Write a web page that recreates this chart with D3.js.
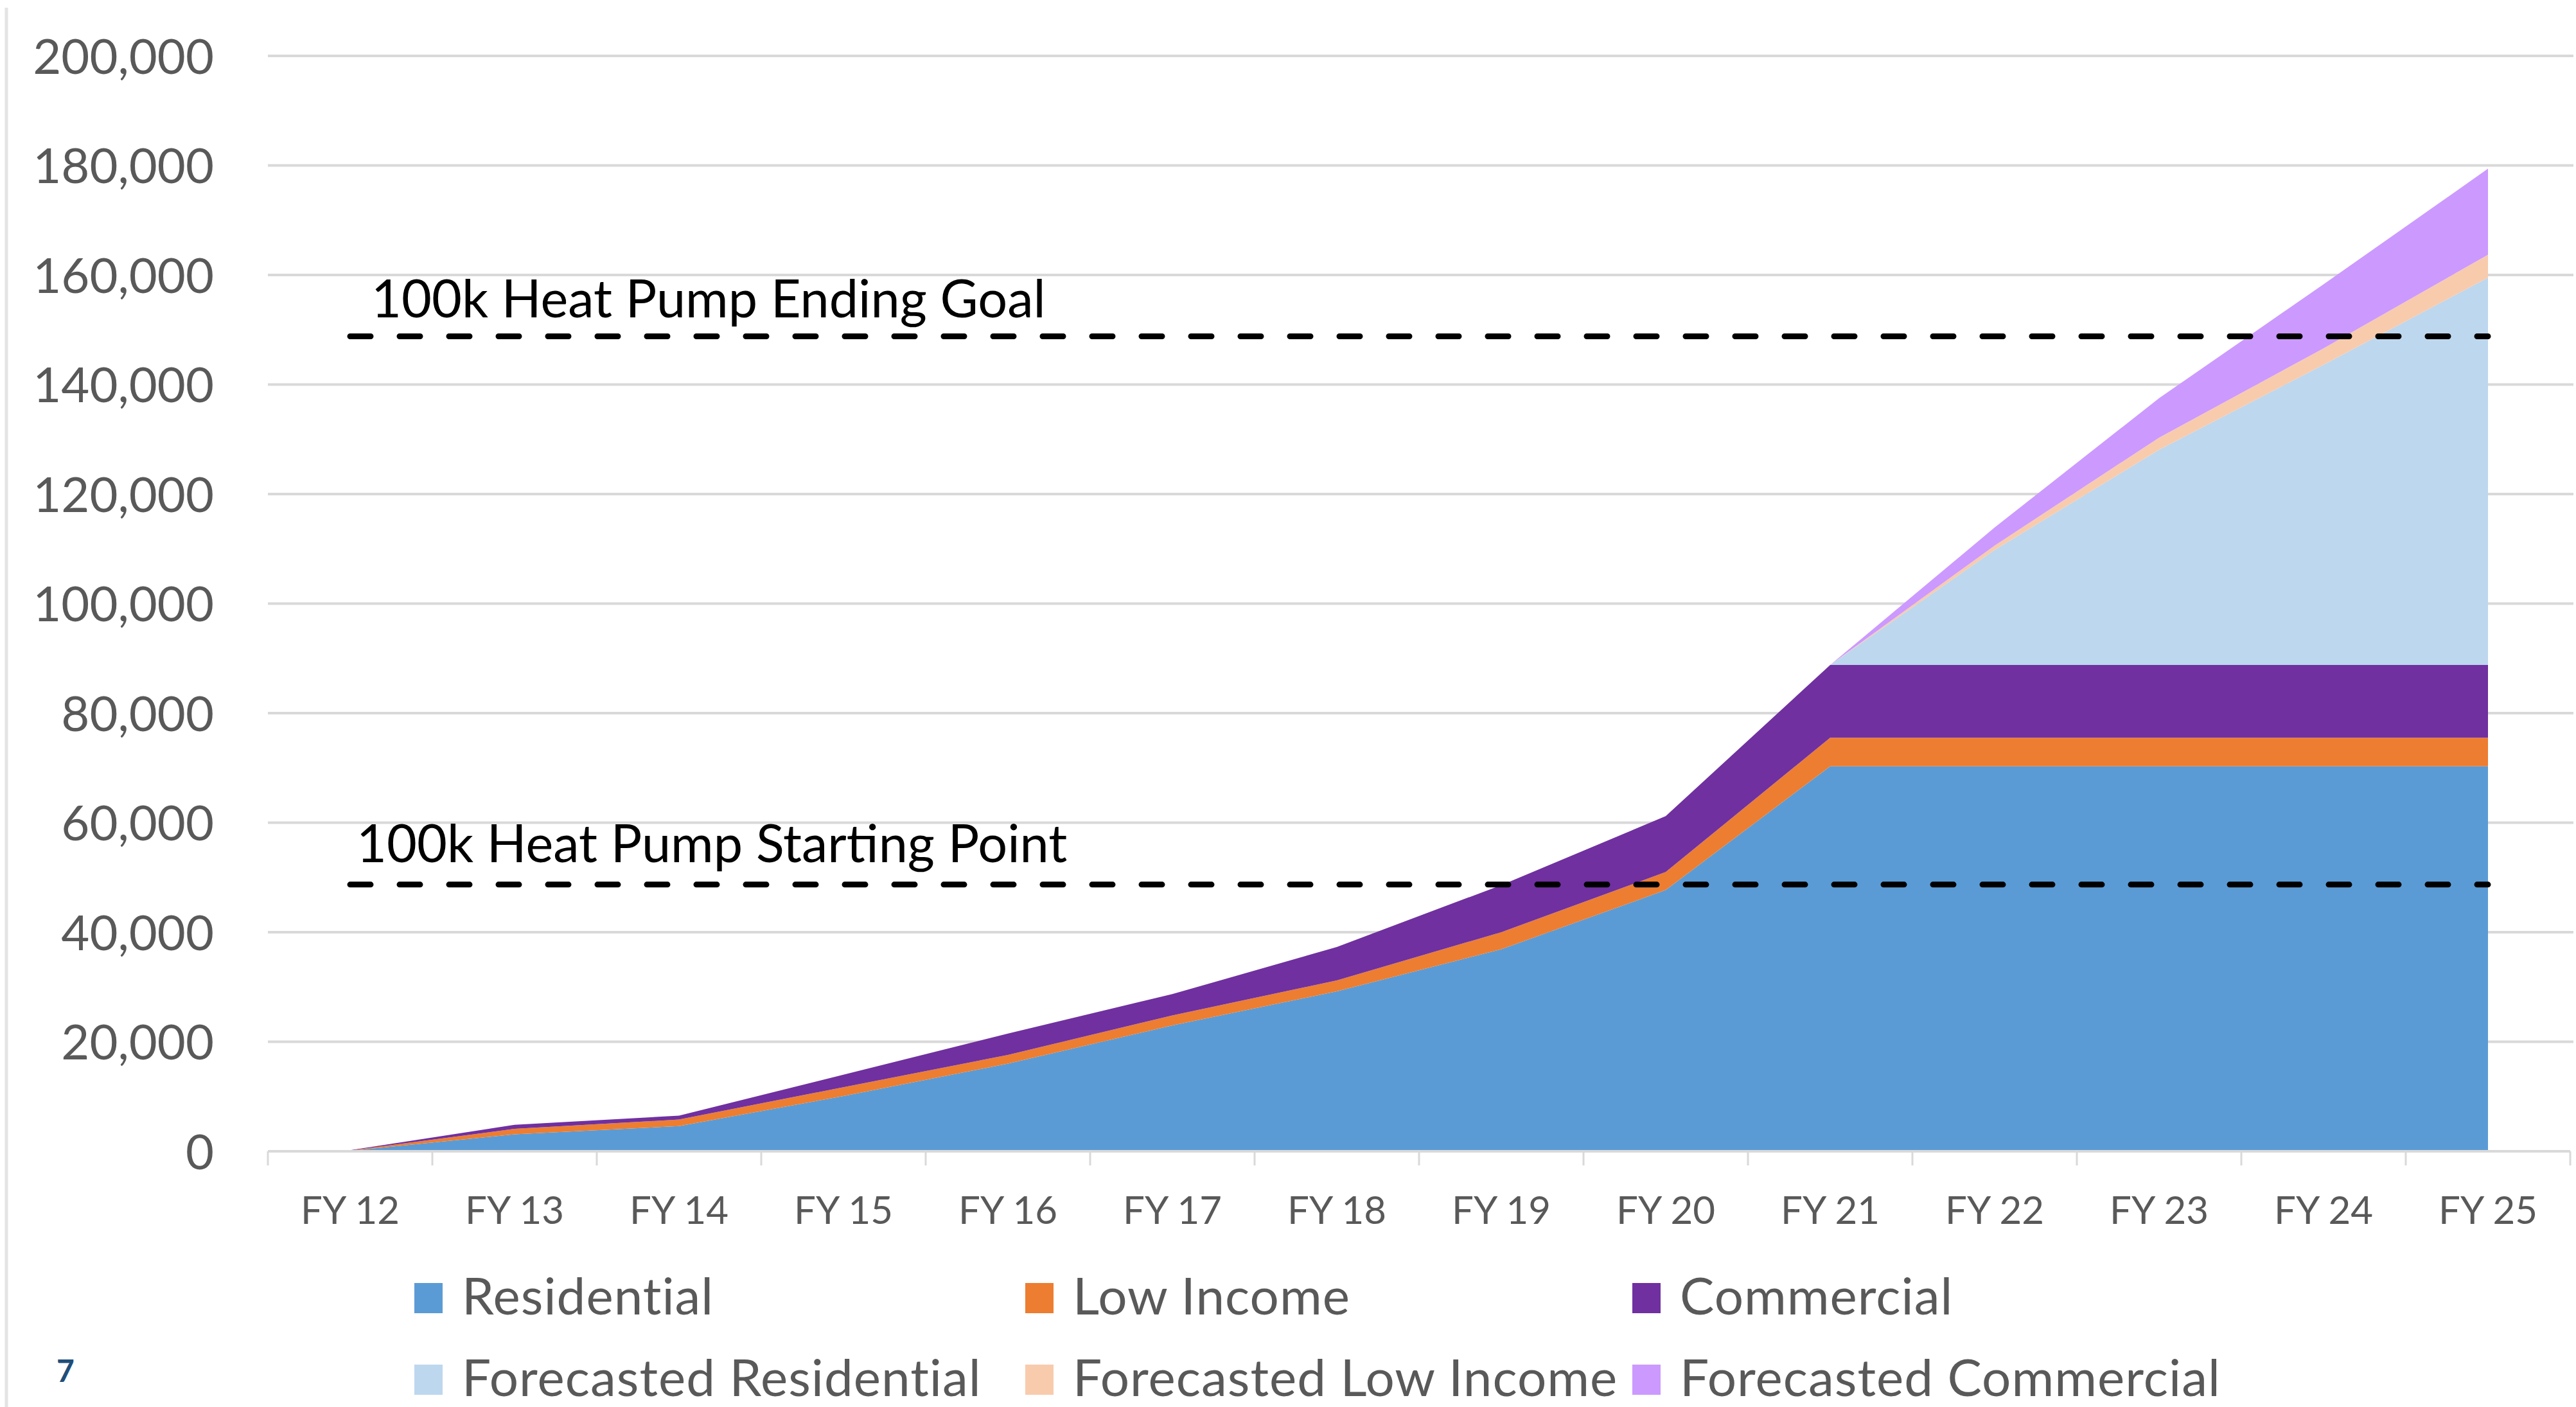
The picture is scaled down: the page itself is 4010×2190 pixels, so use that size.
<!DOCTYPE html>
<html>
<head>
<meta charset="utf-8">
<script src="https://cdn.jsdelivr.net/npm/d3@7"></script>
<style>
  html, body { margin: 0; padding: 0; background: #ffffff; }
  svg { display: block; }
  text { font-family: Lato, "Open Sans", sans-serif; }
</style>
</head>
<body>
<svg id="chart" width="4010" height="2190"></svg>
<script>
// ---- data ----
const categories = ["FY 12","FY 13","FY 14","FY 15","FY 16","FY 17","FY 18","FY 19","FY 20","FY 21","FY 22","FY 23","FY 24","FY 25"];
const residential   = [100, 3100, 4600, 10100, 16000, 23000, 29200, 36900, 47700, 70300, 70300, 70300, 70300, 70300];
const lowIncome     = [50, 1000, 1200, 1600, 1600, 1800, 2000, 3100, 3300, 5200, 5200, 5200, 5200, 5200];
const commercial    = [50, 750, 700, 2300, 3900, 3900, 6100, 8600, 10200, 13300, 13300, 13300, 13300, 13300];
const fcResidential = [0, 0, 0, 0, 0, 0, 0, 0, 0, 0, 21000, 39300, 54800, 70700];
const fcLowIncome   = [0, 0, 0, 0, 0, 0, 0, 0, 0, 0, 800, 2200, 3000, 4200];
const fcCommercial  = [0, 0, 0, 0, 0, 0, 0, 0, 0, 0, 3300, 7200, 11700, 15700];
const seriesNames   = ["Residential","Low Income","Commercial","Forecasted Residential","Forecasted Low Income","Forecasted Commercial"];
const seriesColors  = ["#5B9BD5","#ED7D31","#7030A0","#BDD7EE","#F8CBAD","#CC99FF"];
const yTicks        = [0,20000,40000,60000,80000,100000,120000,140000,160000,180000,200000];
const goalLines     = [
  {label: "100k Heat Pump Starting Point", value: 48700},
  {label: "100k Heat Pump Ending Goal", value: 148800}
];
const pageNumber = "7";

// ---- build table ----
const keys = seriesNames;
const cols = [residential, lowIncome, commercial, fcResidential, fcLowIncome, fcCommercial];
const table = categories.map((c, i) => {
  const row = {cat: c};
  keys.forEach((k, j) => row[k] = cols[j][i]);
  return row;
});
const stacked = d3.stack().keys(keys)(table);

// ---- layout ----
const svg = d3.select("#chart");
const plotLeft = 417, plotRight = 4001, plotTop = 87, plotBottom = 1792;

const x = d3.scaleBand().domain(categories).range([plotLeft, plotRight]).padding(0);
const xc = c => x(c) + x.bandwidth() / 2;
const y = d3.scaleLinear().domain([0, 200000]).range([plotBottom, plotTop]);

// slide edge line on the left
svg.append("line").attr("x1", 10).attr("x2", 10).attr("y1", 12).attr("y2", 2190)
  .attr("stroke", "#e4e4e4").attr("stroke-width", 5);

// y labels
const yAxis = d3.axisLeft(y).tickValues(yTicks).tickFormat(d3.format(",")).tickSize(0).tickPadding(0);
const yg = svg.append("g").attr("transform", `translate(333,0)`).call(yAxis);
yg.select(".domain").remove();
yg.selectAll("text").attr("font-size", 76).attr("fill", "#595959").attr("dy", "0.36em");

// gridlines
svg.append("g").selectAll("line").data(yTicks.filter(d => d > 0)).join("line")
  .attr("x1", plotLeft).attr("x2", 4006)
  .attr("y1", d => y(d)).attr("y2", d => y(d))
  .attr("stroke", "#D9D9D9").attr("stroke-width", 4);

// stacked areas
const area = d3.area()
  .x(d => xc(d.data.cat))
  .y0(d => y(d[0]))
  .y1(d => y(d[1]));
svg.append("g").selectAll("path").data(stacked).join("path")
  .attr("d", area)
  .attr("fill", (d, i) => seriesColors[i]);

// x axis line, ticks, labels
svg.append("line").attr("x1", plotLeft).attr("x2", plotRight)
  .attr("y1", plotBottom).attr("y2", plotBottom)
  .attr("stroke", "#D9D9D9").attr("stroke-width", 4);
const bounds = categories.map(c => x(c)).concat([x(categories[categories.length - 1]) + x.bandwidth()]);
svg.append("g").selectAll("line").data(bounds).join("line")
  .attr("x1", d => d).attr("x2", d => d)
  .attr("y1", plotBottom).attr("y2", plotBottom + 22)
  .attr("stroke", "#D9D9D9").attr("stroke-width", 3);

const xAxis = d3.axisBottom(x).tickSize(0).tickPadding(0);
const xg = svg.append("g").attr("transform", `translate(0,1905)`).call(xAxis);
xg.select(".domain").remove();
xg.selectAll("text").attr("font-size", 60).attr("fill", "#595959").attr("dy", 0);

// goal lines
const x0 = xc(categories[0]), x1 = xc(categories[categories.length - 1]);
const gl = svg.append("g");
gl.selectAll("line").data(goalLines).join("line")
  .attr("x1", x0).attr("x2", x1)
  .attr("y1", d => y(d.value)).attr("y2", d => y(d.value))
  .attr("stroke", "#000").attr("stroke-width", 9)
  .attr("stroke-dasharray", "32,45").attr("stroke-linecap", "round");
const labelOffsets = [{dx: 555 - x0, dy: -35}, {dx: 578 - x0, dy: -29}];
gl.selectAll("text").data(goalLines).join("text")
  .attr("x", (d, i) => x0 + labelOffsets[i].dx)
  .attr("y", (d, i) => y(d.value) + labelOffsets[i].dy)
  .attr("font-size", 81).attr("fill", "#000")
  .text(d => d.label);

// legend
const legendCols = [645, 1596, 2541];
const legendRows = [1997, 2124];
const lg = svg.append("g");
seriesNames.forEach((name, i) => {
  const cx = legendCols[i % 3], ry = legendRows[Math.floor(i / 3)];
  lg.append("rect").attr("x", cx).attr("y", ry).attr("width", 44).attr("height", 47)
    .attr("fill", seriesColors[i]);
  lg.append("text").attr("x", cx + 74).attr("y", ry + 49)
    .attr("font-size", 80).attr("letter-spacing", 1).attr("fill", "#595959").text(name);
});

// page number
svg.append("text").attr("x", 88).attr("y", 2151)
  .attr("font-size", 48).attr("font-weight", "bold").attr("fill", "#1F4E79")
  .text(pageNumber);
</script>
</body>
</html>
